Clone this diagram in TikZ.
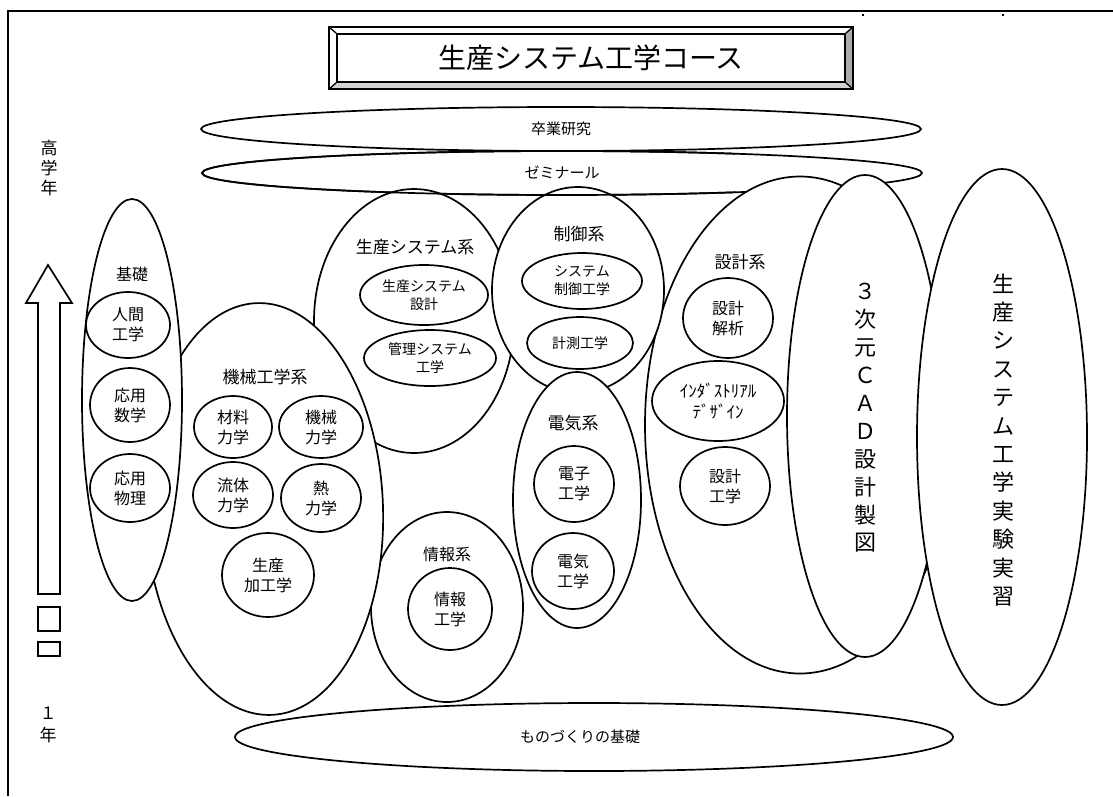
\documentclass[tikz,border=0pt]{standalone}
\usepackage{fontspec}
\setmainfont{Noto Sans CJK JP}
\usetikzlibrary{shapes.geometric}
\newcommand{\fsz}[2]{\fontsize{#1}{#2}\selectfont}

\begin{document}
\begin{tikzpicture}[x=1pt, y=-1pt]
    % --- Style Definitions ---
    \tikzset{
        line style/.style={
            draw=black,
            line width=1.7pt
        },
        oval style/.style={
            line style,
            ellipse,
            fill=white,
            inner sep=0pt,
            outer sep=0pt
        },
        subject style/.style={oval style, align=center, font=\fsz{16}{20}},
        small subject/.style={oval style, align=center, font=\fsz{14}{18}},
        group text/.style={font=\fsz{17}{20}},
        band text/.style={font=\fsz{15}{18}},
        column text/.style={align=center, font=\fsz{22}{28}}
    }

    \useasboundingbox (0,0) rectangle (1113,796);

    % ==========================================
    % FRAME AND TITLE
    % ==========================================
    \draw[line width=2.2pt] (8,796) -- (8,11) -- (1113,11);
    \fill (862,14) rectangle (864,16);
    \fill (1002,14) rectangle (1004,16);

    % bevelled title plate
    \fill[gray!65] (845,34) -- (853,27) -- (853,89) -- (845,82) -- cycle;
    \fill[gray!35] (337,82) -- (845,82) -- (853,89) -- (329,89) -- cycle;
    \draw[line style] (329,27) rectangle (853,89);
    \node[line style, minimum width=508pt, minimum height=48pt, inner sep=0pt,
          font=\fsz{28}{30}] (title) at (591,58) {生産システム工学コース};
    \draw[line width=1.3pt] (329,27) -- (title.north west)
        (853,27) -- (title.north east)
        (853,89) -- (title.south east)
        (329,89) -- (title.south west);

    % ==========================================
    % YEAR AXIS
    % ==========================================
    \node[font=\fsz{17}{20}, align=center] (axis_top) at (49,168) {高\\学\\年};
    \draw[line style, fill=white] (48,265) -- (72,303) -- (60,303) -- (60,594)
        -- (38,594) -- (38,303) -- (26,303) -- cycle;
    \draw[line style] (38,607) rectangle (60,631);
    \draw[line style] (38,642) rectangle (60,656);
    \node[font=\fsz{17}{22}, align=center] (axis_bottom) at (48,725) {１\\年};

    % ==========================================
    % UPPER BANDS
    % ==========================================
    \node[oval style, band text, minimum width=720pt, minimum height=44pt] (grad) at (561,129) {卒業研究};
    \node[oval style, band text, minimum width=720pt, minimum height=44pt] (semi) at (562,173) {ゼミナール};

    % 1. Production systems
    \node[oval style, minimum width=200pt, minimum height=264pt] (prod) at (414,321) {};
    \node[group text] (lbl_prod) at (415,247) {生産システム系};
    \node[small subject, minimum width=128pt, minimum height=60pt] (prod_design) at (424,295) {生産システム\\設計};
    \node[small subject, minimum width=132pt, minimum height=56pt] (prod_manage) at (430,358) {管理システム\\工学};

    % 2. Design
    \node[oval style, minimum width=310pt, minimum height=497pt] (design) at (800,425) {};
    \node[group text] (lbl_design) at (740,262) {設計系};
    \node[subject style, minimum width=90pt, minimum height=80pt] (design_anal) at (728,318) {設計\\解析};
    \node[oval style, align=center, font=\fsz{17}{21}, minimum width=132pt, minimum height=80pt] (design_ind) at (718,401) {ｲﾝﾀﾞｽﾄﾘｱﾙ\\ﾃﾞｻﾞｲﾝ};
    \node[subject style, minimum width=90pt, minimum height=78pt] (design_eng) at (725,486) {設計\\工学};

    % 3. Control
    \node[oval style, minimum width=172pt, minimum height=206pt] (ctrl) at (578,290) {};
    \node[group text] (lbl_ctrl) at (579,234) {制御系};
    \node[small subject, minimum width=120pt, minimum height=56pt] (ctrl_sys) at (582,281) {システム\\制御工学};
    \node[small subject, minimum width=106pt, minimum height=52pt] (ctrl_meas) at (580,343) {計測工学};

    % seminar edge stays visible over the two left groups
    \begin{scope}
        \clip (0,140) rectangle (735,260);
        \node[oval style, fill=none, minimum width=720pt, minimum height=44pt] at (semi.center) {};
    \end{scope}

    % 4. Information
    \node[oval style, minimum width=152pt, minimum height=190pt] (info) at (447,607) {};
    \node[group text, font=\fsz{16}{20}] (lbl_info) at (447,554) {情報系};
    \node[subject style, minimum width=84pt, minimum height=82pt] (info_eng) at (450,609) {情報\\工学};

    % 5. Mechanical
    \node[oval style, rotate=2, minimum width=238pt, minimum height=412pt] (mech) at (264,509) {};
    \node[group text] (lbl_mech) at (265,377) {機械工学系};
    \node[subject style, minimum width=78pt, minimum height=62pt] (mech_mat) at (233,427) {材料\\力学};
    \node[subject style, minimum width=84pt, minimum height=62pt] (mech_dyn) at (321,427) {機械\\力学};
    \node[subject style, minimum width=80pt, minimum height=66pt] (mech_fluid) at (233,495) {流体\\力学};
    \node[subject style, minimum width=80pt, minimum height=68pt] (mech_heat) at (321,498) {熱\\力学};
    \node[subject style, minimum width=92pt, minimum height=84pt] (mech_proc) at (268,575) {生産\\加工学};

    % 6. Basics
    \node[oval style, minimum width=100pt, minimum height=402pt] (basic) at (132,400) {};
    \node[group text, font=\fsz{16}{20}] (lbl_basic) at (132,274) {基礎};
    \node[subject style, minimum width=84pt, minimum height=66pt] (basic_human) at (128,325) {人間\\工学};
    \node[subject style, minimum width=80pt, minimum height=74pt] (basic_math) at (130,405) {応用\\数学};
    \node[subject style, minimum width=80pt, minimum height=68pt] (basic_phys) at (130,488) {応用\\物理};

    % 7. Electrical
    \node[oval style, minimum width=128pt, minimum height=256pt] (elec) at (577,500) {};
    \node[group text] (lbl_elec) at (573,423) {電気系};
    \node[subject style, minimum width=80pt, minimum height=76pt] (elec_tron) at (574,484) {電子\\工学};
    \node[subject style, minimum width=82pt, minimum height=76pt] (elec_eng) at (573,571) {電気\\工学};

    % ==========================================
    % RIGHT COLUMNS AND BASE
    % ==========================================
    \node[oval style, minimum width=156pt, minimum height=482pt] (cad) at (865,416) {};
    \node[column text, font=\fsz{22}{27.9}] (cad_text) at (865,418) {３\\次\\元\\Ｃ\\Ａ\\Ｄ\\設\\計\\製\\図};

    \node[oval style, minimum width=170pt, minimum height=536pt] (lab) at (1002,437) {};
    \node[column text, font=\fsz{22}{28.4}] (lab_text) at (1003,440) {生\\産\\シ\\ス\\テ\\ム\\工\\学\\実\\験\\実\\習};

    \node[oval style, minimum width=718pt, minimum height=68pt] (mono) at (594,737) {};
    \node[band text] (mono_text) at (580,737) {ものづくりの基礎};

\end{tikzpicture}
\end{document}
